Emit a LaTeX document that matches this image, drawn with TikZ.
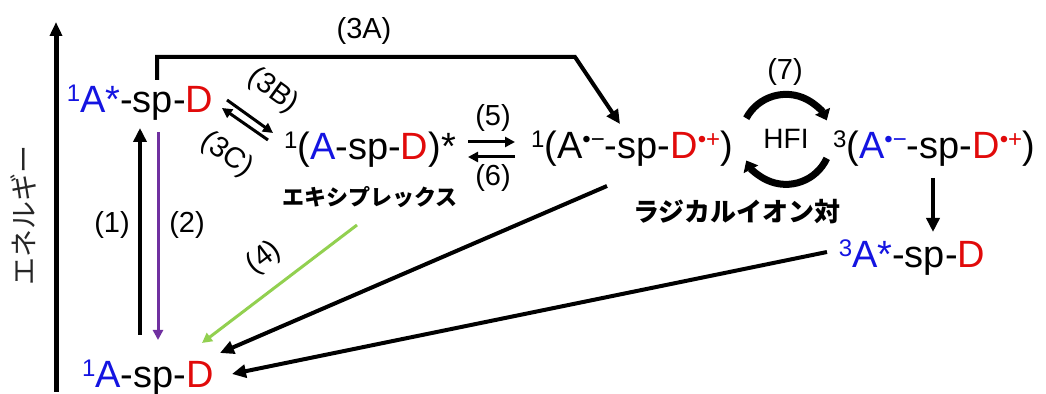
\documentclass[tikz,border=0pt]{standalone}
\usepackage{fontspec}
\setmainfont{Liberation Sans}
\newfontfamily\jpfont{Noto Sans CJK JP}
\usetikzlibrary{arrows.meta,calc}
\definecolor{accblue}{RGB}{20,20,225}
\definecolor{donred}{RGB}{225,10,10}
\definecolor{fluopurple}{RGB}{112,48,160}
\definecolor{exgreen}{RGB}{146,208,80}
\newcommand\sups[1]{\raisebox{5.8pt}{\fontsize{12}{12}\selectfont #1}}
\tikzset{
  species/.style={anchor=base, inner sep=0pt, font=\fontsize{19}{21}\selectfont},
  proc/.style={inner sep=0pt, font=\fontsize{14.5}{16}\selectfont},
  jplabel/.style={inner sep=0pt, font=\jpfont\bfseries\fontsize{#1}{#1}\selectfont},
  energyaxis/.style={line width=2.5pt, -{Triangle[length=7pt,width=6pt]}},
  bigarrow/.style={line width=2pt, -{Triangle[length=7pt,width=6.5pt]}},
  smallarrow/.style={line width=1.5pt, -{Triangle[length=5pt,width=5pt]}},
  hfiarrow/.style={line width=3.5pt, -{Triangle[length=5pt,width=8pt]}}
}
\begin{document}
\begin{tikzpicture}[x=0.5pt,y=-0.5pt]
	\useasboundingbox (0,0) rectangle (1046,394);
	\coordinate (axbot) at (56,392);
	\coordinate (axtop) at (56,22);
	\coordinate (k3a) at (575,57);

	\draw[energyaxis] (axbot) -- (axtop);
	\node[inner sep=0pt, rotate=90, text=black!85, font=\jpfont\fontsize{14}{14}\selectfont] (energy) at (23,216) {エネルギー};

	\node[species] (s1) at (140,113) {{\color{accblue}\sups{1}A*}-sp-{\color{donred}D}};
	\node[species] (g0) at (148,388) {{\color{accblue}\sups{1}A}-sp-{\color{donred}D}};
	\node[species] (ex) at (370,160) {\sups{1}({\color{accblue}A}-sp-{\color{donred}D})*};
	\node[species] (rp1) at (632,159) {\sups{1}(A\sups{•−}-sp-{\color{donred}D\sups{•+}})};
	\node[species] (rp3) at (934,159) {\sups{3}({\color{accblue}A\sups{•−}}-sp-{\color{donred}D\sups{•+}})};
	\node[species] (t1) at (912,268) {{\color{accblue}\sups{3}A*}-sp-{\color{donred}D}};
	\node[species, font=\fontsize{14}{15}\selectfont] (hfi) at (786,149) {HFI};

	\node[jplabel=11] (exname) at (370,197) {エキシプレックス};
	\node[jplabel=13] (rpname) at (737,212) {ラジカルイオン対};

	\node[proc] (l3a) at (364,31) {(3A)};
	\node[proc] (l1) at (112,225) {(1)};
	\node[proc] (l2) at (187,225) {(2)};
	\node[proc, rotate=-36] (l3b) at (273,91) {(3B)};
	\node[proc, rotate=-36] (l3c) at (227,155) {(3C)};
	\node[proc, rotate=37] (l4) at (264,258) {(4)};
	\node[proc] (l5) at (493,118) {(5)};
	\node[proc] (l6) at (493,178) {(6)};
	\node[proc] (l7) at (785,72) {(7)};

	\draw[bigarrow] ([shift={(-8,-53)}]g0.base) -- ([shift={(0,15)}]s1.base);
	\draw[smallarrow, fluopurple] ([shift={(18,19)}]s1.base) -- ([shift={(10,-48)}]g0.base);
	\draw[bigarrow] ([shift={(17,-33)}]s1.base) |- (k3a) -- ([shift={(-12,-35)}]rp1.base);
	\draw[smallarrow] ([shift={(87,-13)}]s1.base) -- ([shift={(-97,-27)}]ex.base);
	\draw[smallarrow] ([shift={(-102,-20)}]ex.base) -- ([shift={(82,-5)}]s1.base);
	\draw[smallarrow] ([shift={(98,-18)}]ex.base) -- ([shift={(-117,-17)}]rp1.base);
	\draw[smallarrow] ([shift={(-117,-2)}]rp1.base) -- ([shift={(98,-3)}]ex.base);
	\draw[smallarrow, exgreen] ([shift={(-13,65)}]ex.base) -- ([shift={(54,-45)}]g0.base);
	\draw[bigarrow] ([shift={(-25,27)}]rp1.base) -- ([shift={(72,-35)}]g0.base);
	\draw[bigarrow] ([shift={(-85,-16)}]t1.base) -- ([shift={(84,-14)}]g0.base);
	\draw[bigarrow] ([shift={(-1,19)}]rp3.base) -- ([shift={(21,-36)}]t1.base);
	\draw[hfiarrow] ([shift={(152:22.5pt)}]hfi.center) arc[start angle=152, end angle=25, radius=22.5pt];
	\draw[hfiarrow] ([shift={(-25:22.5pt)}]hfi.center) arc[start angle=-25, end angle=-152, radius=22.5pt];
\end{tikzpicture}
\end{document}
